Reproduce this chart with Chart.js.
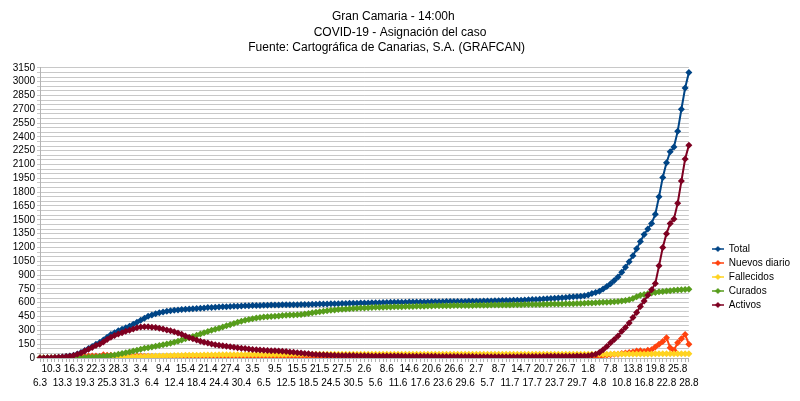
<!DOCTYPE html>
<html>
<head>
<meta charset="utf-8">
<script src="https://cdn.jsdelivr.net/npm/chart.js@4/dist/chart.umd.min.js"></script>
<style>
  body { margin: 0; background: #fff; }
  #wrap { width: 800px; height: 401px; }
</style>
</head>
<body>
<div id="wrap"><canvas id="covidChart"></canvas></div>
<script>
// dates of each report (day.month)
const dates = (
    '6.3 7.3 9.3 10.3 11.3 12.3 13.3 14.3 15.3 16.3 17.3 18.3 19.3 20.3 21.3 22.3 23.3 24.3 25.3 26.3 27.3 28.3 29.3 30.3 31.3 ' +
    '1.4 2.4 3.4 4.4 5.4 6.4 7.4 8.4 9.4 10.4 11.4 12.4 13.4 14.4 15.4 16.4 17.4 18.4 19.4 20.4 21.4 22.4 23.4 24.4 25.4 26.4 27.4 28.4 29.4 30.4 ' +
    '1.5 2.5 3.5 4.5 5.5 6.5 7.5 8.5 9.5 10.5 11.5 12.5 13.5 14.5 15.5 16.5 17.5 18.5 19.5 20.5 21.5 22.5 23.5 24.5 25.5 26.5 27.5 28.5 29.5 30.5 31.5 ' +
    '1.6 2.6 3.6 4.6 5.6 6.6 7.6 8.6 9.6 10.6 11.6 12.6 13.6 14.6 15.6 16.6 17.6 18.6 19.6 20.6 21.6 22.6 23.6 24.6 25.6 26.6 27.6 28.6 29.6 30.6 ' +
    '1.7 2.7 3.7 4.7 5.7 6.7 7.7 8.7 9.7 10.7 11.7 12.7 13.7 14.7 15.7 16.7 17.7 18.7 19.7 20.7 21.7 22.7 23.7 24.7 25.7 26.7 27.7 28.7 29.7 30.7 31.7 ' +
    '1.8 2.8 3.8 4.8 5.8 6.8 7.8 8.8 9.8 10.8 11.8 12.8 13.8 14.8 15.8 16.8 17.8 18.8 19.8 20.8 21.8 22.8 23.8 24.8 25.8 26.8 27.8 28.8'
).split(' ');

const total = [
    0, 1, 2, 3, 5, 8, 11, 16, 21, 29,
    43, 60, 81, 103, 126, 149, 168, 196, 226, 256,
    275, 295, 312, 328, 345, 365, 388, 410, 432, 452,
    468, 480, 492, 500, 507, 513, 518, 522, 526, 529,
    532, 535, 538, 541, 544, 547, 549, 551, 553, 555,
    557, 559, 561, 563, 565, 567, 568, 569, 570, 571,
    572, 573, 574, 575, 576, 577, 578, 578, 579, 579,
    580, 581, 582, 583, 584, 585, 586, 587, 588, 589,
    590, 591, 592, 593, 594, 595, 596, 597, 598, 599,
    600, 601, 602, 603, 604, 605, 605, 606, 606, 607,
    607, 608, 608, 609, 609, 610, 610, 611, 611, 612,
    612, 613, 613, 614, 614, 615, 615, 616, 617, 618,
    619, 620, 621, 622, 623, 624, 625, 626, 627, 628,
    630, 632, 634, 636, 638, 640, 643, 646, 649, 652,
    655, 658, 661, 664, 667, 670, 675, 684, 700, 712,
    725, 748, 775, 805, 840, 880, 930, 985, 1045, 1110,
    1185, 1265, 1340, 1400, 1460, 1560, 1750, 1960, 2120, 2240,
    2290, 2460, 2700, 2930, 3100
];

const nuevos = [
    0, 1, 1, 1, 2, 3, 3, 4, 5, 8,
    13, 17, 20, 22, 23, 23, 19, 35, 30, 30,
    25, 24, 26, 17, 17, 23, 23, 22, 20, 20,
    16, 12, 12, 8, 7, 6, 5, 4, 4, 3,
    3, 3, 3, 2, 3, 3, 2, 2, 2, 2,
    2, 2, 2, 2, 2, 2, 1, 1, 1, 1,
    1, 1, 1, 1, 1, 1, 1, 0, 1, 1,
    1, 1, 1, 1, 1, 1, 1, 1, 1, 1,
    1, 1, 1, 1, 1, 1, 1, 1, 1, 1,
    1, 1, 1, 1, 1, 1, 0, 1, 1, 0,
    1, 1, 1, 1, 1, 1, 1, 1, 1, 1,
    1, 1, 1, 1, 1, 1, 1, 1, 1, 1,
    1, 1, 1, 1, 1, 1, 1, 1, 2, 1,
    1, 2, 1, 2, 2, 3, 3, 3, 3, 3,
    3, 3, 3, 3, 4, 3, 4, 6, 8, 10,
    12, 25, 30, 35, 40, 40, 50, 55, 60, 65,
    75, 80, 70, 85, 90, 120, 150, 180, 220, 110,
    85, 165, 210, 255, 150
];

const fallecidos = [
    0, 0, 0, 0, 0, 0, 0, 0, 0, 0,
    0, 1, 1, 1, 2, 2, 3, 3, 4, 5,
    6, 7, 8, 10, 11, 13, 14, 16, 17, 19,
    20, 21, 22, 23, 24, 25, 26, 27, 28, 29,
    30, 30, 31, 31, 32, 32, 33, 33, 34, 34,
    35, 35, 35, 36, 36, 36, 37, 37, 37, 38,
    38, 38, 38, 39, 39, 39, 39, 40, 40, 40,
    40, 40, 40, 40, 41, 41, 41, 41, 41, 41,
    41, 41, 41, 41, 41, 41, 41, 41, 41, 41,
    41, 41, 41, 41, 41, 41, 41, 41, 41, 41,
    42, 42, 42, 42, 42, 42, 42, 42, 42, 42,
    42, 42, 42, 42, 42, 42, 42, 42, 42, 42,
    42, 42, 42, 42, 42, 42, 42, 42, 42, 42,
    42, 42, 42, 42, 42, 42, 42, 42, 42, 42,
    42, 42, 42, 42, 42, 42, 42, 42, 42, 42,
    42, 42, 42, 43, 43, 43, 43, 43, 43, 43,
    43, 44, 44, 44, 44, 45, 45, 45, 45, 45,
    45, 46, 46, 46, 46
];

const curados = [
    0, 0, 0, 0, 0, 0, 0, 1, 1, 2,
    3, 4, 5, 7, 9, 12, 15, 18, 22, 26,
    32, 40, 50, 58, 65, 75, 85, 95, 105, 112,
    120, 128, 136, 144, 152, 160, 170, 182, 195, 208,
    220, 233, 246, 260, 274, 288, 300, 312, 324, 336,
    350, 362, 375, 388, 400, 410, 418, 426, 434, 440,
    445, 448, 451, 454, 457, 460, 463, 466, 468, 470,
    473, 478, 484, 490, 496, 502, 508, 513, 518, 522,
    526, 529, 532, 535, 538, 540, 542, 544, 546, 548,
    550, 551, 552, 553, 554, 555, 556, 557, 558, 559,
    560, 561, 562, 563, 564, 565, 566, 567, 567, 568,
    568, 569, 569, 570, 570, 571, 571, 572, 572, 573,
    573, 574, 574, 575, 575, 576, 576, 577, 578, 579,
    580, 580, 581, 582, 582, 583, 584, 585, 585, 586,
    587, 588, 589, 590, 591, 592, 594, 596, 598, 600,
    602, 604, 606, 608, 611, 614, 618, 624, 632, 645,
    665, 680, 690, 698, 705, 712, 718, 723, 727, 731,
    735, 738, 741, 743, 745
];

const activos = [
    0, 1, 2, 3, 5, 8, 11, 15, 20, 27,
    40, 55, 75, 95, 115, 135, 150, 175, 200, 225,
    245, 260, 275, 290, 300, 315, 328, 336, 340, 338,
    335, 330, 322, 315, 305, 295, 285, 272, 258, 240,
    222, 208, 195, 183, 172, 162, 153, 145, 138, 132,
    127, 122, 117, 112, 107, 102, 97, 93, 90, 87,
    85, 82, 80, 78, 76, 73, 70, 66, 62, 58,
    55, 50, 46, 42, 39, 36, 34, 32, 30, 29,
    28, 27, 27, 26, 26, 25, 25, 24, 24, 23,
    23, 23, 22, 22, 22, 21, 21, 21, 20, 20,
    20, 19, 19, 19, 18, 18, 18, 17, 17, 17,
    16, 16, 16, 15, 15, 15, 15, 14, 14, 14,
    14, 14, 13, 13, 13, 13, 14, 14, 14, 15,
    15, 15, 16, 16, 17, 17, 18, 18, 18, 19,
    19, 19, 20, 20, 21, 21, 22, 25, 32, 42,
    60, 90, 125, 165, 200, 240, 290, 330, 380, 440,
    495, 560, 620, 680, 740, 810, 1000, 1200, 1350, 1460,
    1510, 1680, 1920, 2160, 2310
];

const seriesNames = ['Total', 'Nuevos diario', 'Fallecidos', 'Curados', 'Activos'];
const seriesColors = ['#004586', '#ff420e', '#ffd320', '#579d1c', '#7e0021'];
const yTickStep = 150;

Chart.defaults.font.family = "'Liberation Sans', Arial, sans-serif";
Chart.defaults.color = '#222';

// small line + diamond symbol for the legend
function legendIcon(color) {
    const c = document.createElement('canvas');
    c.width = 12;
    c.height = 8;
    const g = c.getContext('2d');
    g.strokeStyle = color;
    g.lineWidth = 1.5;
    g.beginPath();
    g.moveTo(0, 4);
    g.lineTo(12, 4);
    g.stroke();
    g.fillStyle = color;
    g.beginPath();
    g.moveTo(6, 1);
    g.lineTo(9, 4);
    g.lineTo(6, 7);
    g.lineTo(3, 4);
    g.closePath();
    g.fill();
    return c;
}

function makeSeries(i, data) {
    return {
        label: seriesNames[i],
        data: data,
        order: seriesNames.length - i,
        borderColor: seriesColors[i],
        backgroundColor: seriesColors[i],
        borderWidth: 2,
        pointStyle: 'rectRot',
        pointRadius: 3.5,
        pointBorderWidth: 0,
        pointBackgroundColor: seriesColors[i],
        tension: 0
    };
}

const ctx = document.getElementById('covidChart').getContext('2d');
new Chart(ctx, {
    type: 'line',
    data: {
        labels: dates,
        datasets: [
            makeSeries(0, total),
            makeSeries(1, nuevos),
            makeSeries(2, fallecidos),
            makeSeries(3, curados),
            makeSeries(4, activos)
        ]
    },
    options: {
        responsive: true,
        maintainAspectRatio: false,
        animation: false,
        layout: {
            padding: { top: 0, right: 0, bottom: 11, left: 0 }
        },
        plugins: {
            tooltip: { enabled: false },
            title: {
                display: true,
                // trailing spaces nudge the centred lines a little to the left, as in the original
                text: ['Gran Camaria - 14:00h    ', 'COVID-19 - Asignación del caso', 'Fuente: Cartográfica de Canarias, S.A. (GRAFCAN)        '],
                color: '#000',
                font: { size: 12, weight: 'normal', lineHeight: 1.3 },
                padding: { top: 9, bottom: 12 }
            },
            legend: {
                position: 'right',
                align: 'start',
                title: {
                    display: true,
                    text: ' ',
                    font: { size: 10 },
                    padding: { top: 228, bottom: 0 }
                },
                labels: {
                    usePointStyle: true,
                    pointStyleWidth: 12,
                    boxHeight: 8,
                    padding: 4,
                    color: '#000',
                    font: { size: 10 },
                    sort: (a, b) => a.datasetIndex - b.datasetIndex,
                    generateLabels(chart) {
                        const items = Chart.defaults.plugins.legend.labels.generateLabels(chart);
                        items.forEach(it => { it.pointStyle = legendIcon(seriesColors[it.datasetIndex]); });
                        return items;
                    }
                }
            }
        },
        scales: {
            x: {
                offset: false,
                grid: { drawOnChartArea: false, tickLength: 4, color: '#b3b3b3' },
                border: { color: '#b3b3b3' },
                ticks: {
                    autoSkip: false,
                    maxRotation: 0,
                    minRotation: 0,
                    padding: 0,
                    color: '#000',
                    font: { size: 10, lineHeight: 1.4 },
                    callback(value, index) {
                        if (index % 3) return '';
                        const lbl = dates[index];
                        return (index / 3) % 2 ? [lbl, ''] : ['', lbl];
                    }
                }
            },
            y: {
                min: 0,
                max: 3150,
                grid: { color: '#c8c8c8', tickLength: 3 },
                border: { color: '#b3b3b3' },
                afterFit(scale) { scale.width = 40; },
                ticks: {
                    stepSize: 50,
                    autoSkip: false,
                    padding: 2,
                    color: '#000',
                    font: { size: 10 },
                    callback: v => (v % yTickStep === 0 ? v : '')
                }
            },
            yGap: {
                position: 'right',
                display: true,
                grid: { display: false, drawTicks: false },
                border: { display: false },
                ticks: { display: false },
                afterFit(scale) { scale.width = 19; }
            }
        }
    }
});
</script>
</body>
</html>
